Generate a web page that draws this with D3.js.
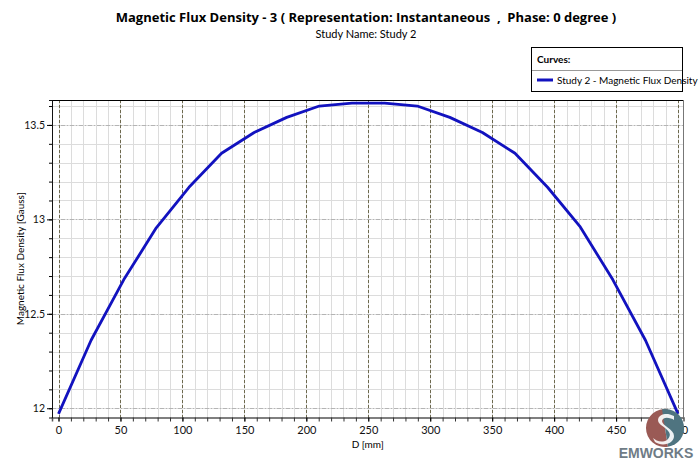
<!DOCTYPE html>
<html><head><meta charset="utf-8">
<script src="https://cdn.jsdelivr.net/npm/d3@7"></script>
<style>body{margin:0;background:#fff}svg{display:block;font-family:"Open Sans","Noto Sans",sans-serif}</style>
</head><body><svg id="c" width="700" height="461"></svg>
<script>
const xValues = [0,26.3,52.6,78.9,105.3,131.6,157.9,184.2,210.5,236.8,263.2,289.5,315.8,342.1,368.4,394.7,421.1,447.4,473.7,500];
const yValues = [11.97,12.36,12.68,12.955,13.17,13.35,13.46,13.54,13.6,13.615,13.615,13.6,13.54,13.46,13.35,13.17,12.96,12.68,12.36,11.97];
const xTicks = [0,50,100,150,200,250,300,350,400,450,500];
const yTicks = [12,12.5,13,13.5];
const xMinor = d3.range(-0,505,10);
const yMinor = d3.range(12,13.65,0.1).map(v=>+v.toFixed(2));
const titleText = "Magnetic Flux Density - 3 ( Representation: Instantaneous  ,  Phase: 0 degree )";
const subtitleText = "Study Name: Study 2";
const seriesName = "Study 2 - Magnetic Flux Density";

const svg = d3.select("#c");
const L=52,R=683.5,T=100,B=417.5;
const small = "Lato,'Open Sans',sans-serif";
const x = d3.scaleLinear().domain([-5.25,504.4]).range([L,R]);
const y = d3.scaleLinear().domain([11.951,13.632]).range([B,T]);

// minor grid
svg.append("g").selectAll("line").data(xMinor).join("line")
 .attr("x1",d=>Math.round(x(d))+0.5).attr("x2",d=>Math.round(x(d))+0.5).attr("y1",T).attr("y2",B)
 .attr("stroke","#dcdcdc").attr("stroke-width",1);
svg.append("g").selectAll("line").data(yMinor).join("line")
 .attr("y1",d=>Math.round(y(d))+0.5).attr("y2",d=>Math.round(y(d))+0.5).attr("x1",L).attr("x2",R)
 .attr("stroke","#dcdcdc").attr("stroke-width",1);
// major grid
svg.append("g").selectAll("line").data(yTicks).join("line")
 .attr("y1",d=>Math.round(y(d))+0.5).attr("y2",d=>Math.round(y(d))+0.5).attr("x1",L).attr("x2",R)
 .attr("stroke","#b4b4b4").attr("stroke-width",1).attr("stroke-dasharray","4,2,1,2");
svg.append("g").selectAll("line").data(xTicks).join("line")
 .attr("x1",d=>Math.round(x(d))+0.5).attr("x2",d=>Math.round(x(d))+0.5).attr("y1",T).attr("y2",B)
 .attr("stroke","#6e6a4e").attr("stroke-width",1).attr("stroke-dasharray","3,2");

// borders
svg.append("line").attr("x1",L).attr("x2",R).attr("y1",T+0.5).attr("y2",T+0.5).attr("stroke","#000");
svg.append("line").attr("x1",R).attr("x2",R).attr("y1",T).attr("y2",B).attr("stroke","#777");

// axes
const xAxis = svg.append("g").attr("transform",`translate(0,${B})`)
 .call(d3.axisBottom(x).tickValues(xMinor).tickSize(4).tickFormat(""));
xAxis.select(".domain").attr("stroke","#555").attr("stroke-width",1.5);
xAxis.selectAll(".tick line").attr("stroke","#333");
const xLab = svg.append("g").attr("transform",`translate(0,${B})`)
 .call(d3.axisBottom(x).tickValues(xTicks).tickSize(4).tickPadding(5));
xLab.select(".domain").remove();
xLab.selectAll("text").attr("font-size",11).attr("fill","#111").attr("font-family",small);

const yAxis = svg.append("g").attr("transform",`translate(${L},0)`)
 .call(d3.axisLeft(y).tickValues(yMinor).tickSize(3).tickFormat(""));
yAxis.select(".domain").attr("stroke","#111");
const yLab = svg.append("g").attr("transform",`translate(${L},0)`)
 .call(d3.axisLeft(y).tickValues(yTicks).tickSize(5).tickPadding(2).tickFormat(d=>String(d)));
yLab.select(".domain").remove();
yLab.selectAll("text").attr("font-size",10.5).attr("fill","#111").attr("font-family",small);

// line
const pts = xValues.map((d,i)=>[d,yValues[i]]);
svg.append("path").datum(pts)
 .attr("d",d3.line().x(d=>x(d[0])).y(d=>y(d[1])))
 .attr("fill","none").attr("stroke","#1212bf").attr("stroke-width",2.8).attr("stroke-linejoin","round");

// titles
svg.append("text").attr("x",366).attr("y",22).attr("text-anchor","middle")
 .attr("font-size",13).attr("font-weight","bold").attr("fill","#000").style("white-space","pre").text(titleText);
svg.append("text").attr("x",366).attr("y",38).attr("text-anchor","middle")
 .attr("font-size",11).attr("font-family",small).attr("fill","#000").text(subtitleText);
svg.append("text").attr("x",(L+R)/2).attr("y",448).attr("text-anchor","middle")
 .attr("font-size",10).attr("font-family",small).attr("fill","#000").text("D [mm]");
svg.append("text").attr("transform",`translate(24,${(T+B)/2}) rotate(-90)`).attr("text-anchor","middle")
 .attr("font-size",10).attr("font-family",small).attr("fill","#000").text("Magnetic Flux Density [Gauss]");

// legend
const lg = svg.append("g");
lg.append("rect").attr("x",531.5).attr("y",47.5).attr("width",151).attr("height",44).attr("fill","#fff").attr("stroke","#000");
lg.append("text").attr("x",537).attr("y",63).attr("font-size",10).attr("font-weight","bold").attr("font-family",small).text("Curves:");
lg.append("line").attr("x1",532).attr("x2",682).attr("y1",70.5).attr("y2",70.5).attr("stroke","#999");
lg.append("line").attr("x1",537).attr("x2",553).attr("y1",80).attr("y2",80).attr("stroke","#1212bf").attr("stroke-width",3);
lg.append("text").attr("x",557).attr("y",83.5).attr("font-size",10).attr("font-family",small).text(seriesName);

// logo
const lgo = svg.append("g").attr("transform","translate(665,428)");
const arc = d3.arc();
lgo.append("path").attr("d",arc({innerRadius:0,outerRadius:19,startAngle:Math.PI*0.95,endAngle:Math.PI*2.05})).attr("fill","#9a5a55");
lgo.append("path").attr("d",arc({innerRadius:0,outerRadius:19,startAngle:-Math.PI*0.05,endAngle:Math.PI*0.95})).attr("fill","#4f7480");
lgo.append("path").attr("d","M9,-12 C-2,-18 -12,-10 -4,-3 C4,3 8,6 2,12 C-3,15 -9,13 -12,10 L-10,14 C-3,19 9,16 9,8 C9,1 -3,-2 -3,-7 C-2,-12 6,-10 9,-8 Z").attr("fill","#fff").attr("opacity",0.9);
svg.append("text").attr("x",656).attr("y",458).attr("text-anchor","middle").attr("font-size",14).attr("font-weight","bold")
 .attr("fill","#6f7c86").attr("font-family","'Liberation Sans',Arial,sans-serif").text("EMWORKS");
</script></body></html>
